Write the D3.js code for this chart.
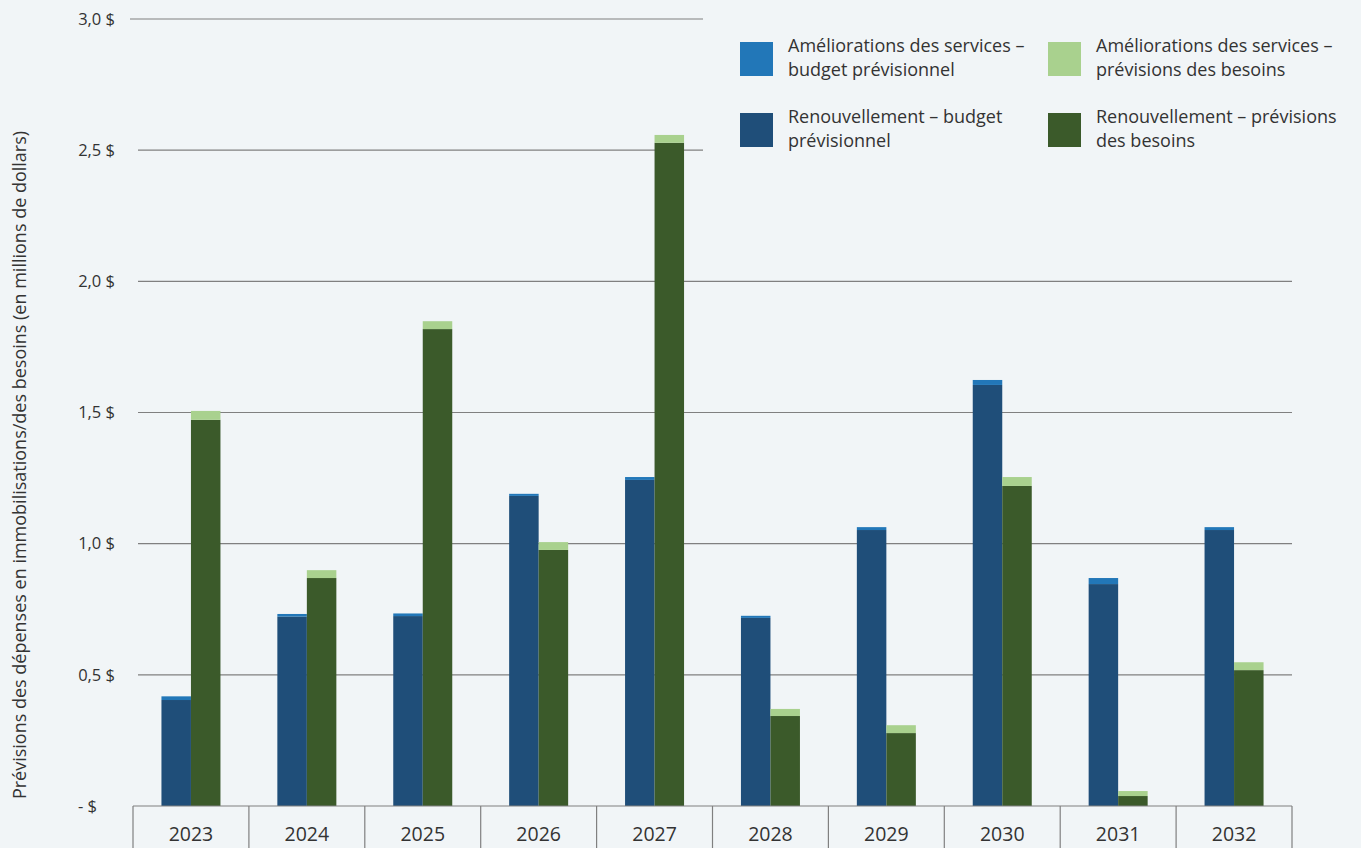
<!DOCTYPE html>
<html><head><meta charset="utf-8">
<script src="https://cdn.jsdelivr.net/npm/d3@7"></script>
<style>
html,body{margin:0;padding:0;background:#f1f5f7;}
svg{display:block;font-family:"Open Sans","Noto Sans",sans-serif;}
</style></head>
<body><svg id="c" width="1361" height="848"></svg>
<script>
const years = ["2023","2024","2025","2026","2027","2028","2029","2030","2031","2032"];
const renewalBudget = [0.404,0.722,0.724,1.182,1.243,0.717,1.052,1.605,0.846,1.052];
const improvementBudget = [0.014,0.010,0.010,0.008,0.011,0.008,0.011,0.019,0.023,0.011];
const renewalNeeds = [1.472,0.869,1.818,0.976,2.528,0.343,0.278,1.220,0.038,0.518];
const improvementNeeds = [0.034,0.030,0.030,0.030,0.030,0.027,0.030,0.034,0.019,0.030];
const yTicks = [0,0.5,1.0,1.5,2.0,2.5,3.0];
const legendLabels = [
  ["Améliorations des services –","budget prévisionnel"],
  ["Améliorations des services –","prévisions des besoins"],
  ["Renouvellement – budget","prévisionnel"],
  ["Renouvellement – prévisions","des besoins"]
];
const yTitle = "Prévisions des dépenses en immobilisations/des besoins (en millions de dollars)";

const C = {rb:"#1f4e79", ib:"#2277b8", rn:"#3b5a2a", in:"#a9d18e"};
const svg = d3.select("#c");
const x0 = 133, x1 = 1292, yBase = 806, yTop = 19;
const x = d3.scaleBand().domain(years).range([x0,x1]).padding(0);
const y = d3.scaleLinear().domain([0,3]).range([yBase,yTop]);
const bw = 29.5;

// gridlines
const grid = svg.append("g");
yTicks.filter(t=>t>0).forEach(t=>{
  grid.append("line")
    .attr("x1", t===3 ? 130 : 138)
    .attr("x2", t>=2.5 ? 703 : x1)
    .attr("y1", y(t)).attr("y2", y(t))
    .attr("stroke","#808080").attr("stroke-width",1.2);
});

// y tick labels
const yAxis = d3.axisLeft(y).tickValues(yTicks).tickSize(0).tickPadding(0)
  .tickFormat(d => d===0 ? "- $" : d3.format(".1f")(d).replace(".",",")+" $");
const ya = svg.append("g").attr("transform","translate(115,0)").call(yAxis);
ya.select(".domain").remove();
ya.selectAll("text").attr("font-size",16.5).attr("fill","#333").attr("font-family","'Open Sans',sans-serif")
  .attr("dx", d => d===0 ? -18 : 0);

// bars
const g = svg.append("g");
years.forEach((yr,i)=>{
  const cx = x(yr) + x.bandwidth()/2;
  g.append("rect").attr("x",cx-bw).attr("width",bw)
    .attr("y",y(renewalBudget[i])).attr("height",yBase-y(renewalBudget[i])).attr("fill",C.rb);
  g.append("rect").attr("x",cx-bw).attr("width",bw)
    .attr("y",y(renewalBudget[i]+improvementBudget[i])).attr("height",y(renewalBudget[i])-y(renewalBudget[i]+improvementBudget[i])).attr("fill",C.ib);
  g.append("rect").attr("x",cx).attr("width",bw)
    .attr("y",y(renewalNeeds[i])).attr("height",yBase-y(renewalNeeds[i])).attr("fill",C.rn);
  g.append("rect").attr("x",cx).attr("width",bw)
    .attr("y",y(renewalNeeds[i]+improvementNeeds[i])).attr("height",y(renewalNeeds[i])-y(renewalNeeds[i]+improvementNeeds[i])).attr("fill",C.in);
});

// x axis as table
const xa = svg.append("g");
xa.append("line").attr("x1",x0).attr("x2",x1).attr("y1",yBase).attr("y2",yBase).attr("stroke","#808080").attr("stroke-width",1.2);
years.concat([null]).forEach((yr)=>{
  const xx = yr ? x(yr) : x1;
  xa.append("line").attr("x1",xx).attr("x2",xx).attr("y1",yBase).attr("y2",848).attr("stroke","#808080").attr("stroke-width",1.2);
});
const xAxis = d3.axisBottom(x).tickSize(0).tickPadding(0);
const xg = svg.append("g").attr("transform",`translate(0,${yBase})`).call(xAxis);
xg.select(".domain").remove();
xg.selectAll("text").attr("font-size",19.5).attr("fill","#333").attr("dy",0).attr("y",35).attr("font-family","'Open Sans',sans-serif");

// y title
svg.append("text").attr("transform","translate(26,465) rotate(-90)")
  .attr("text-anchor","middle").attr("font-size",18).attr("fill","#333").text(yTitle);

// legend
const legPos = [[740,42],[1048,42],[740,113],[1048,113]];
const legCol = [C.ib,C.in,C.rb,C.rn];
legendLabels.forEach((lines,i)=>{
  const [lx,ly] = legPos[i];
  svg.append("rect").attr("x",lx).attr("y",ly).attr("width",33).attr("height",34).attr("fill",legCol[i]);
  const t = svg.append("text").attr("x",lx+48).attr("y",ly+10).attr("font-size",18).attr("fill","#333");
  lines.forEach((l,j)=>t.append("tspan").attr("x",lx+48).attr("dy", j===0?0:24).text(l));
});
</script></body></html>
